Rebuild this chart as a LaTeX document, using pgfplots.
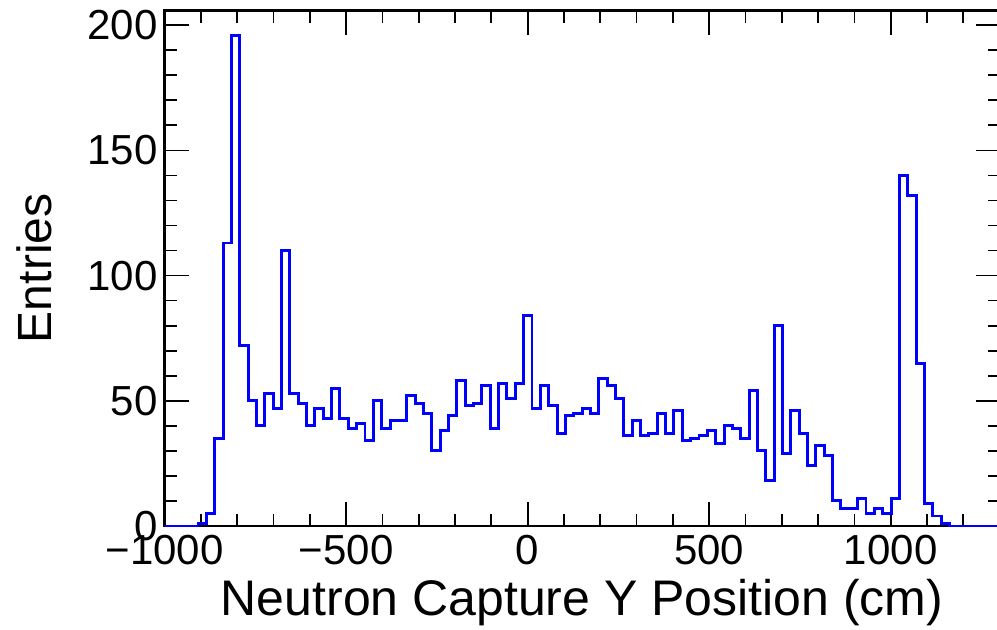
\documentclass[border=0pt]{standalone}
\usepackage{fontspec}
\setmainfont{Liberation Sans}
\usepackage{pgfplots}
\usepackage{pgfplotstable}
\pgfplotsset{compat=1.18}
\pgfplotstableread{
x y
-1000 0
-977 0
-954 0
-931 0
-908 1
-885 5
-862 35
-839 113
-816 196
-793 72
-770 50
-747 40
-724 53
-701 47
-678 110
-655 53
-632 49
-609 40
-586 47
-563 43
-540 55
-517 43
-494 39
-471 41
-448 34
-425 50
-402 39
-379 42
-356 42
-333 52
-310 49
-287 45
-264 30
-241 38
-218 44
-195 58
-172 48
-149 49
-126 56
-103 39
-80 57
-57 51
-34 57
-11 84
12 47
35 56
58 48
81 37
104 44
127 45
150 47
173 45
196 59
219 56
242 51
265 36
288 42
311 36
334 37
357 45
380 37
403 46
426 34
449 35
472 36
495 38
518 33
541 40
564 39
587 35
610 54
633 30
656 18
679 80
702 29
725 46
748 37
771 24
794 32
817 28
840 10
863 7
886 7
909 11
932 5
955 7
978 5
1001 11
1024 140
1047 132
1070 65
1093 9
1116 4
1139 1
1162 0
1185 0
1208 0
1231 0
1254 0
1277 0
1300 0
}\histdata
\begin{document}
\begin{tikzpicture}
\begin{axis}[
  at={(0pt,0pt)}, anchor=south west,
  scale only axis, width=626.25pt, height=386.5pt,
  xmin=-1000, xmax=1300, ymin=0, ymax=205.8,
  clip=false,
  axis line style={line width=2.2pt, black},
  tick style={line width=1.3pt, black},
  major tick length=18pt, minor tick length=9pt,
  tick align=inside,
  xtick={-1000,-500,0,500,1000},
  xticklabels={−1000,−500,0,500,1000},
  minor xtick={-900,-800,-700,-600,-400,-300,-200,-100,100,200,300,400,600,700,800,900,1100,1200},
  ytick={0,50,100,150,200},
  yticklabels={0,50,100,150,200},
  minor y tick num=4,
  ticklabel style={font=\fontsize{31.5}{32}\selectfont},
  xticklabel style={anchor=north, inner sep=0pt, yshift=-6.5pt},
  yticklabel style={anchor=east, inner sep=0pt, xshift=-5pt},
  xlabel={Neutron Capture Y Position (cm)},
  ylabel={Entries},
  xlabel style={font=\fontsize{37.5}{39}\selectfont, at={(axis description cs:0.5,-0.149)}, anchor=center},
  ylabel style={font=\fontsize{36}{38}\selectfont, at={(axis description cs:-0.156,0.5)}, anchor=center},
]
\addplot[const plot, color={rgb,255:red,0;green,0;blue,255}, line width=2.2pt] table[x=x,y=y] {\histdata};
\end{axis}
\pgfresetboundingbox
\useasboundingbox (-123.45pt,-78pt) rectangle (624.3pt,394.5pt);
\end{tikzpicture}
\end{document}
